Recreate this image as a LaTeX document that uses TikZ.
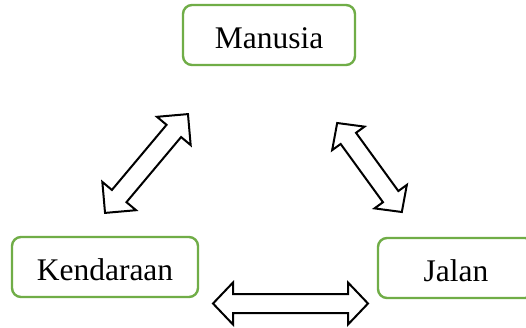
\documentclass[tikz,border=0pt]{standalone}
\usepackage{fontspec}
\setmainfont{Liberation Serif}
\definecolor{boxgreen}{HTML}{70AD47}
\tikzset{
  box/.style={draw=boxgreen, line width=2.4pt, rounded corners=9pt, fill=white,
    font=\fontsize{31.5}{36}\selectfont, text height=26pt, text depth=0pt,
    minimum height=60pt, inner sep=0pt},
  arrowline/.style={draw=black, line width=2pt, line join=miter, fill=white},
  pics/dblarrow/.style n args={4}{code={
    % #1 length, #2 head length, #3 head half width, #4 shaft half width
    \path[arrowline] (-#1/2,0) -- (-#1/2+#2,#3) -- (-#1/2+#2,#4) -- (#1/2-#2,#4)
      -- (#1/2-#2,#3) -- (#1/2,0) -- (#1/2-#2,-#3) -- (#1/2-#2,-#4)
      -- (-#1/2+#2,-#4) -- (-#1/2+#2,-#3) -- cycle;
  }}
}
\begin{document}
\begin{tikzpicture}[x=1pt,y=-1pt]
\useasboundingbox (0,0) rectangle (526,327);
\clip (0,0) rectangle (526,327);
\fill[white] (0,0) rectangle (526,327);
\node[box, minimum width=172pt] (manusia) at (269,35) {Manusia};
\node[box, minimum width=186pt] (kendaraan) at (105,267) {Kendaraan};
\node[box, minimum width=156pt] (jalan) at (456,268) {Jalan};
\pic[rotate=50] (arrowkm) at (146.5,163.5) {dblarrow={129}{22}{22}{9.5}};
\pic[rotate=-54] (arrowmj) at (369.5,167.5) {dblarrow={110}{19}{20}{9.5}};
\pic (arrowkj) at (290.5,303.5) {dblarrow={155}{20}{21}{9.5}};
\end{tikzpicture}
\end{document}
